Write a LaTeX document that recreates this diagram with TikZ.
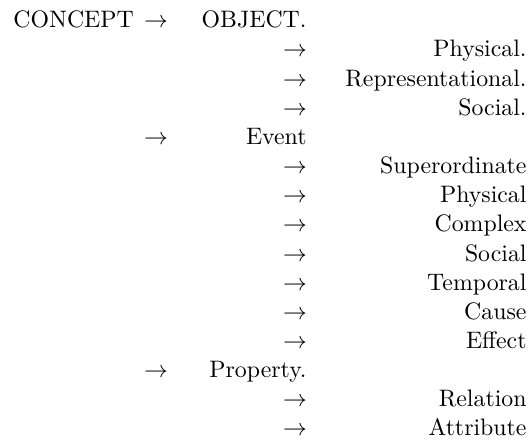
\documentclass[tikz,border=0pt]{standalone}
\begin{document}
\begin{tikzpicture}[x=0.42pt,y=-0.42pt,
  txt/.style={inner sep=0pt,anchor=base east},
  head/.style={inner sep=0pt,anchor=base west},
  arr/.style={inner sep=0pt,anchor=base}]
\useasboundingbox (0,0) rectangle (530,441);
% row 0
\node[head] (concept) at (13,27.7) {CONCEPT};
\node[arr] (a0) at (156,27.7) {$\rightarrow$};
\node[txt] (object) at (307,27.7) {OBJECT.};
% object children
\node[arr] (a1) at (295,56.9) {$\rightarrow$};
\node[txt] (objphys) at (527,56.9) {Physical.};
\node[arr] (a2) at (295,86.0) {$\rightarrow$};
\node[txt] (objrep) at (527,86.0) {Representational.};
\node[arr] (a3) at (295,115.2) {$\rightarrow$};
\node[txt] (objsoc) at (527,115.2) {Social.};
% event
\node[arr] (a4) at (156,144.3) {$\rightarrow$};
\node[txt] (event) at (307,144.3) {Event};
\node[arr] (a5) at (295,173.5) {$\rightarrow$};
\node[txt] (evsup) at (527,173.5) {Superordinate};
\node[arr] (a6) at (295,202.7) {$\rightarrow$};
\node[txt] (evphys) at (527,202.7) {Physical};
\node[arr] (a7) at (295,231.8) {$\rightarrow$};
\node[txt] (evcomp) at (527,231.8) {Complex};
\node[arr] (a8) at (295,261.0) {$\rightarrow$};
\node[txt] (evsoc) at (527,261.0) {Social};
\node[arr] (a9) at (295,290.1) {$\rightarrow$};
\node[txt] (evtemp) at (527,290.1) {Temporal};
\node[arr] (a10) at (295,319.3) {$\rightarrow$};
\node[txt] (evcause) at (527,319.3) {Cause};
\node[arr] (a11) at (295,348.5) {$\rightarrow$};
\node[txt] (eveff) at (527,348.5) {Effect};
% property
\node[arr] (a12) at (156,377.6) {$\rightarrow$};
\node[txt] (property) at (307,377.6) {Property.};
\node[arr] (a13) at (295,406.8) {$\rightarrow$};
\node[txt] (prrel) at (527,406.8) {Relation};
\node[arr] (a14) at (295,435.9) {$\rightarrow$};
\node[txt] (pratt) at (527,435.9) {Attribute};
\end{tikzpicture}
\end{document}
